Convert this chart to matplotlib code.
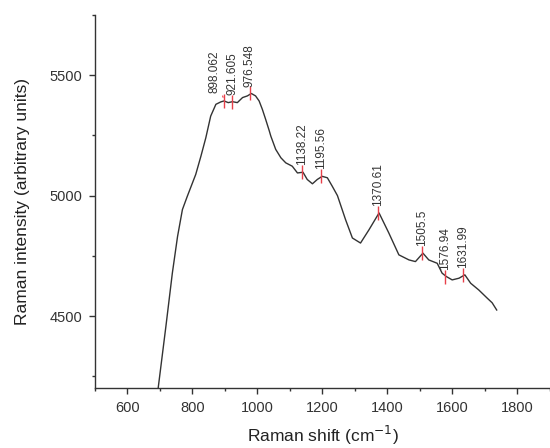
import matplotlib.pyplot as plt
from matplotlib.ticker import MultipleLocator

plt.rcParams["font.family"] = ["Liberation Sans", "DejaVu Sans"]

# spectrum
shift = [688, 695, 718, 738, 754, 769, 784, 810, 826, 841, 856, 872, 887, 897,
         910, 923, 938, 954, 969, 981, 994, 1005, 1015, 1025, 1036, 1041, 1056,
         1072, 1087, 1107, 1123, 1140, 1153, 1169, 1184, 1199, 1215, 1230, 1246,
         1271, 1292, 1317, 1343, 1374, 1404, 1435, 1466, 1486, 1509, 1527, 1553,
         1568, 1581, 1599, 1620, 1638, 1656, 1681, 1707, 1722, 1736]
intensity = [4130, 4207, 4455, 4678, 4830, 4942, 4997, 5088, 5164, 5240, 5330,
             5379, 5389, 5393, 5386, 5390, 5386, 5407, 5414, 5424, 5414, 5393,
             5358, 5317, 5270, 5247, 5192, 5157, 5136, 5122, 5094, 5097, 5067,
             5049, 5067, 5080, 5074, 5039, 5000, 4900, 4824, 4803, 4858, 4928,
             4845, 4754, 4733, 4726, 4761, 4733, 4719, 4678, 4664, 4650, 4657,
             4671, 4636, 4608, 4574, 4555, 4525]

peak_pos = [898.062, 921.605, 976.548, 1138.22, 1195.56, 1370.61, 1505.5,
            1576.94, 1631.99]
peak_val = [5393, 5390, 5424, 5097, 5080, 4928, 4761, 4664, 4671]
peak_txt = ["898.062", "921.605", "976.548", "1138.22", "1195.56", "1370.61",
            "1505.5", "1576.94", "1631.99"]

fig = plt.figure(figsize=(5.5, 4.48), dpi=100)
ax = fig.add_axes([0.1727, 0.1333, 0.8273, 0.8333])

ax.plot(shift, intensity, color="#333333", linewidth=1.0)
ax.plot(peak_pos, peak_val, linestyle="none", marker="|", markersize=10,
        markeredgewidth=1.0, color="#e8404a")

for i, (x, y, t) in enumerate(zip(peak_pos, peak_val, peak_txt)):
    if i == 0:
        ax.annotate(t, xy=(x - 4, y + 15), xytext=(-6, 3), textcoords="offset points",
                    rotation=90, ha="center", va="bottom", fontsize=8.5,
                    color="#333333",
                    arrowprops=dict(arrowstyle="-", color="#e8404a", lw=0.8,
                                    shrinkA=0, shrinkB=0))
    else:
        ax.annotate(t, xy=(x, y), xytext=(0, 5), textcoords="offset points",
                    rotation=90, ha="center", va="bottom", fontsize=8.5,
                    color="#333333")

ax.set_xlim(500, 1900)
ax.set_ylim(4200, 5750)
ax.xaxis.set_minor_locator(MultipleLocator(100))
ax.yaxis.set_minor_locator(MultipleLocator(250))
ax.set_xticks([600, 800, 1000, 1200, 1400, 1600, 1800])
ax.set_yticks([4500, 5000, 5500])

for s in ["top", "right"]:
    ax.spines[s].set_visible(False)
for s in ["left", "bottom"]:
    ax.spines[s].set_color("#333333")
    ax.spines[s].set_linewidth(1.0)

ax.tick_params(which="major", length=4, width=1, color="#333333",
               labelsize=10.5, labelcolor="#333333", pad=5)
ax.tick_params(which="minor", length=2.5, width=1, color="#333333")

ax.set_xlabel("Raman shift (cm$^{-1}$)", fontsize=12.5, color="#222222", labelpad=6.5)
ax.set_ylabel("Raman intensity (arbitrary units)", fontsize=12.5, color="#222222",
              labelpad=14)

fig.savefig("out.png", dpi=100)
